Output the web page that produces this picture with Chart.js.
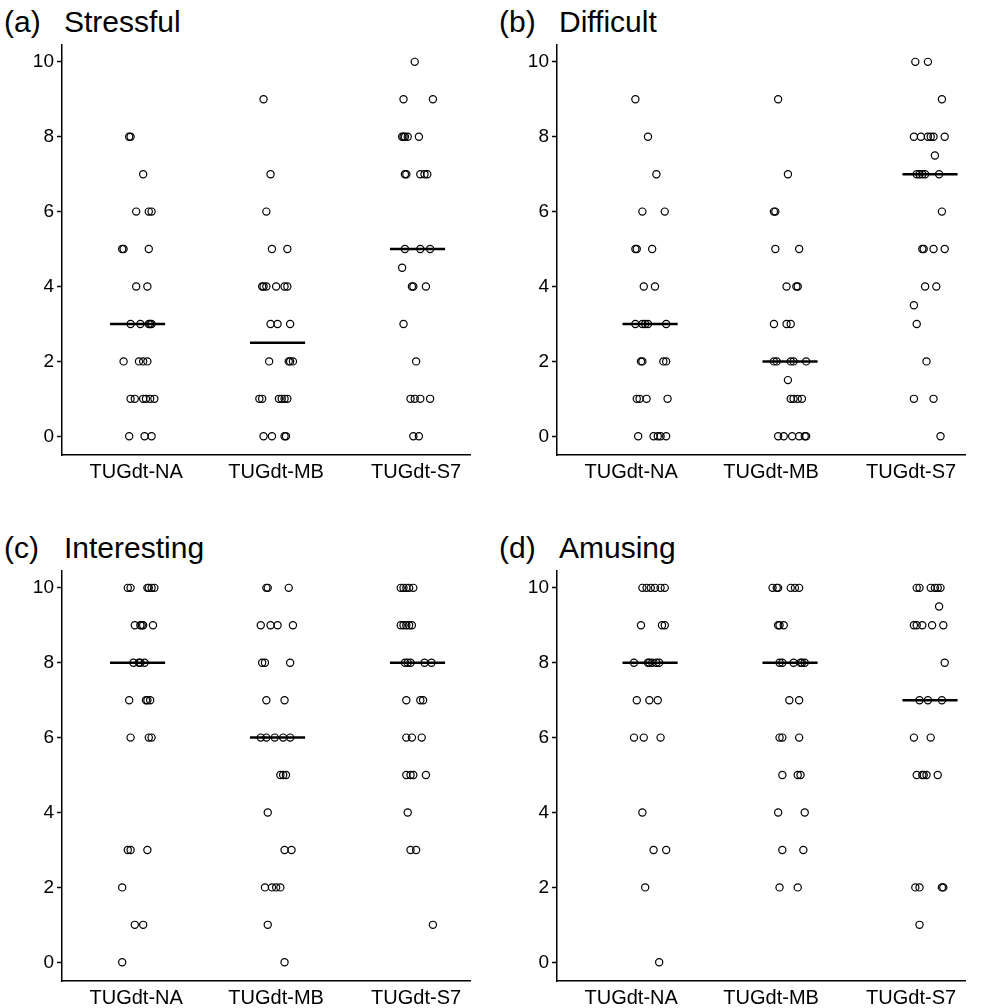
<!DOCTYPE html>
<html><head><meta charset="utf-8">
<script src="https://cdn.jsdelivr.net/npm/chart.js@4.4.0/dist/chart.umd.min.js"></script>
<style>
body{margin:0;background:#fff;width:989px;height:1008px;position:relative;overflow:hidden;font-family:"Liberation Sans",Arial,sans-serif}
.title{position:absolute;font-size:30px;color:#000;white-space:pre;line-height:34px}
canvas{position:absolute}
</style></head><body>
<script>
// ---------- DATA ----------
const categories = ['TUGdt-NA', 'TUGdt-MB', 'TUGdt-S7'];
const yTicks = [0, 2, 4, 6, 8, 10];
const panelLetters = ['(a)', '(b)', '(c)', '(d)'];
const panelTitles = ['Stressful', 'Difficult', 'Interesting', 'Amusing'];

// (a) Stressful
const stressful_NA_y  = [8,8,7,6,6,6,5,5,5,4,4,3,3,3,3,3,2,2,2,2,1,1,1,1,1,1,0,0,0];
const stressful_NA_dx = [-0.05,-0.04,0.05,0.00,0.09,0.11,-0.10,-0.09,0.09,0.00,0.08,-0.04,0.03,0.09,0.10,0.11,-0.09,0.02,0.05,0.08,-0.04,-0.01,0.05,0.07,0.10,0.13,-0.05,0.06,0.11];
const stressful_MB_y  = [9,7,6,5,5,4,4,4,4,4,4,3,3,3,2,2,2,2,1,1,1,1,1,1,0,0,0,0];
const stressful_MB_dx = [-0.09,-0.04,-0.07,-0.03,0.08,-0.10,-0.09,-0.07,0.00,0.06,0.08,-0.04,0.01,0.10,-0.05,0.09,0.10,0.12,-0.12,-0.10,0.02,0.04,0.06,0.08,-0.09,-0.03,0.06,0.07];
const stressful_S7_y  = [10,9,9,8,8,8,8,8,7,7,7,7,7,5,5,5,4.5,4,4,4,3,2,1,1,1,1,0,0];
const stressful_S7_dx = [-0.01,-0.09,0.12,-0.10,-0.09,-0.08,-0.06,0.02,-0.08,-0.07,0.03,0.06,0.08,-0.08,0.03,0.10,-0.10,-0.03,-0.02,0.07,-0.09,0.00,-0.04,-0.01,0.03,0.10,-0.02,0.02];
const stressful_median = [3, 2.5, 5];

// (b) Difficult
const difficult_NA_y  = [9,8,7,6,6,5,5,5,4,4,3,3,3,3,3,2,2,2,2,1,1,1,1,0,0,0,0,0];
const difficult_NA_dx = [0.03,0.12,0.18,0.08,0.24,0.03,0.04,0.15,0.09,0.17,0.03,0.08,0.10,0.12,0.25,0.07,0.08,0.23,0.25,0.04,0.06,0.11,0.26,0.05,0.16,0.19,0.21,0.25];
const difficult_MB_y  = [9,7,6,6,5,5,4,4,4,3,3,3,2,2,2,2,2,1.5,1,1,1,1,0,0,0,0,0,0];
const difficult_MB_dx = [0.05,0.12,0.02,0.03,0.03,0.20,0.11,0.18,0.19,0.02,0.11,0.14,0.02,0.04,0.14,0.16,0.25,0.12,0.14,0.16,0.19,0.22,0.05,0.09,0.15,0.20,0.24,0.25];
const difficult_S7_y  = [10,10,9,8,8,8,8,8,8,7.5,7,7,7,7,7,6,5,5,5,5,4,4,3.5,3,2,1,1,0];
const difficult_S7_dx = [0.03,0.12,0.22,0.02,0.07,0.12,0.14,0.16,0.24,0.17,0.04,0.06,0.08,0.10,0.20,0.22,0.08,0.09,0.16,0.24,0.10,0.18,0.02,0.04,0.11,0.02,0.16,0.21];
const difficult_median = [3, 2, 7];

// (c) Interesting
const interesting_NA_y  = [10,10,10,10,10,10,9,9,9,9,9,8,8,8,8,7,7,7,7,6,6,6,3,3,3,2,1,1,0];
const interesting_NA_dx = [-0.06,-0.04,0.08,0.09,0.11,0.13,-0.01,0.03,0.04,0.05,0.12,-0.02,0.02,0.03,0.06,-0.05,0.07,0.08,0.10,-0.04,0.09,0.11,-0.06,-0.04,0.08,-0.10,-0.01,0.05,-0.10];
const interesting_MB_y  = [10,10,10,9,9,9,9,8,8,8,7,7,6,6,6,6,6,5,5,5,4,3,3,2,2,2,2,1,0];
const interesting_MB_dx = [-0.07,-0.06,0.09,-0.11,-0.04,0.01,0.12,-0.10,-0.08,0.10,-0.07,0.06,-0.11,-0.07,-0.01,0.05,0.10,0.03,0.05,0.07,-0.06,0.06,0.11,-0.08,-0.03,0.00,0.03,-0.06,0.06];
const interesting_S7_y  = [10,10,10,10,10,9,9,9,9,9,8,8,8,8,8,7,7,7,6,6,6,5,5,5,5,4,3,3,1];
const interesting_S7_dx = [-0.11,-0.09,-0.07,-0.05,-0.02,-0.11,-0.09,-0.07,-0.05,-0.03,-0.08,-0.06,-0.04,0.06,0.11,-0.07,0.03,0.05,-0.07,-0.03,0.04,-0.07,-0.04,-0.02,0.07,-0.06,-0.04,0.00,0.12];
const interesting_median = [8, 6, 8];

// (d) Amusing
const amusing_NA_y  = [10,10,10,10,10,10,9,9,9,8,8,8,8,8,8,7,7,7,6,6,6,4,3,3,2,0];
const amusing_NA_dx = [0.08,0.11,0.14,0.17,0.21,0.24,0.07,0.22,0.24,0.02,0.12,0.13,0.15,0.18,0.20,0.04,0.13,0.19,0.02,0.09,0.21,0.08,0.16,0.25,0.10,0.20];
const amusing_MB_y  = [10,10,10,10,10,10,9,9,9,8,8,8,8,8,8,7,7,6,6,6,5,5,5,4,4,3,3,2,2];
const amusing_MB_dx = [0.01,0.04,0.05,0.14,0.17,0.20,0.05,0.06,0.09,0.06,0.08,0.16,0.21,0.22,0.24,0.13,0.20,0.06,0.08,0.20,0.08,0.19,0.21,0.05,0.24,0.08,0.23,0.06,0.19];
const amusing_S7_y  = [10,10,10,10,10,10,9.5,9,9,9,9,9,8,7,7,7,6,6,5,5,5,5,5,2,2,2,2,1];
const amusing_S7_dx = [0.04,0.06,0.14,0.17,0.19,0.21,0.20,0.02,0.04,0.08,0.15,0.23,0.24,0.06,0.12,0.22,0.02,0.14,0.04,0.08,0.09,0.11,0.19,0.03,0.06,0.22,0.23,0.06];
const amusing_median = [8, 8, 7];

// ---------- LAYOUT / STYLE ----------
const panels = [
  {left: 0,   top: 0,   h: 490, groups: [[stressful_NA_y, stressful_NA_dx],[stressful_MB_y, stressful_MB_dx],[stressful_S7_y, stressful_S7_dx]], median: stressful_median, shift: 0.01},
  {left: 495, top: 0,   h: 490, groups: [[difficult_NA_y, difficult_NA_dx],[difficult_MB_y, difficult_MB_dx],[difficult_S7_y, difficult_S7_dx]], median: difficult_median, shift: 0.135},
  {left: 0,   top: 526, h: 482, groups: [[interesting_NA_y, interesting_NA_dx],[interesting_MB_y, interesting_MB_dx],[interesting_S7_y, interesting_S7_dx]], median: interesting_median, shift: 0.01},
  {left: 495, top: 526, h: 482, groups: [[amusing_NA_y, amusing_NA_dx],[amusing_MB_y, amusing_MB_dx],[amusing_S7_y, amusing_S7_dx]], median: amusing_median, shift: 0.135},
];
const XFONT = {family: '"Liberation Sans", Arial, sans-serif', size: 20};
const YFONT = {family: '"Liberation Sans", Arial, sans-serif', size: 19};
const HALF = 0.197;

panels.forEach((p, pi) => {
  const t1 = document.createElement('div');
  t1.className = 'title';
  t1.textContent = panelLetters[pi];
  t1.style.left = (p.left + 4) + 'px';
  t1.style.top = (p.top + 5) + 'px';
  document.body.appendChild(t1);
  const t2 = document.createElement('div');
  t2.className = 'title';
  t2.textContent = panelTitles[pi];
  t2.style.left = (p.left + 64) + 'px';
  t2.style.top = (p.top + 5) + 'px';
  document.body.appendChild(t2);

  const cv = document.createElement('canvas');
  cv.width = 494; cv.height = p.h;
  cv.style.left = p.left + 'px'; cv.style.top = p.top + 'px';
  cv.style.width = '494px'; cv.style.height = p.h + 'px';
  document.body.appendChild(cv);

  const datasets = [];
  p.groups.forEach((g, ci) => {
    datasets.push({
      data: g[0].map((y, i) => ({x: ci + 1 + g[1][i], y: y})),
      pointRadius: 3.6, pointBorderWidth: 1.2,
      pointBackgroundColor: 'rgba(0,0,0,0)', pointBorderColor: '#000',
      showLine: false
    });
  });
  p.median.forEach((m, ci) => {
    datasets.push({
      data: [{x: ci + 1 + p.shift - HALF, y: m}, {x: ci + 1 + p.shift + HALF, y: m}],
      showLine: true, borderColor: '#000', borderWidth: 2.5, pointRadius: 0, fill: false
    });
  });

  new Chart(cv.getContext('2d'), {
    type: 'scatter',
    data: {datasets},
    options: {
      responsive: false, animation: false, devicePixelRatio: 1,
      layout: {padding: {left: 0, right: 24, top: 45, bottom: 0}},
      plugins: {legend: {display: false}, tooltip: {enabled: false}},
      scales: {
        x: {
          type: 'linear', min: 0.47, max: 3.385,
          afterBuildTicks: s => { s.ticks = categories.map((c, i) => ({value: i + 1})); },
          ticks: {callback: v => categories[v - 1] || '', font: XFONT, color: '#000', padding: 5, autoSkip: false, maxRotation: 0},
          grid: {display: false, drawTicks: false},
          border: {color: '#000', width: 1.5},
          afterFit: s => { s.height = p.h - 45 - 410; }
        },
        y: {
          type: 'linear', min: -0.5, max: 10.45,
          afterBuildTicks: s => { s.ticks = yTicks.map(v => ({value: v})); },
          ticks: {font: YFONT, color: '#000', padding: 3},
          grid: {drawOnChartArea: false, tickLength: 5, tickColor: '#000', tickWidth: 1.5},
          border: {color: '#000', width: 1.5},
          afterFit: s => { s.width = 62; }
        }
      }
    }
  });
});
</script>
</body></html>
